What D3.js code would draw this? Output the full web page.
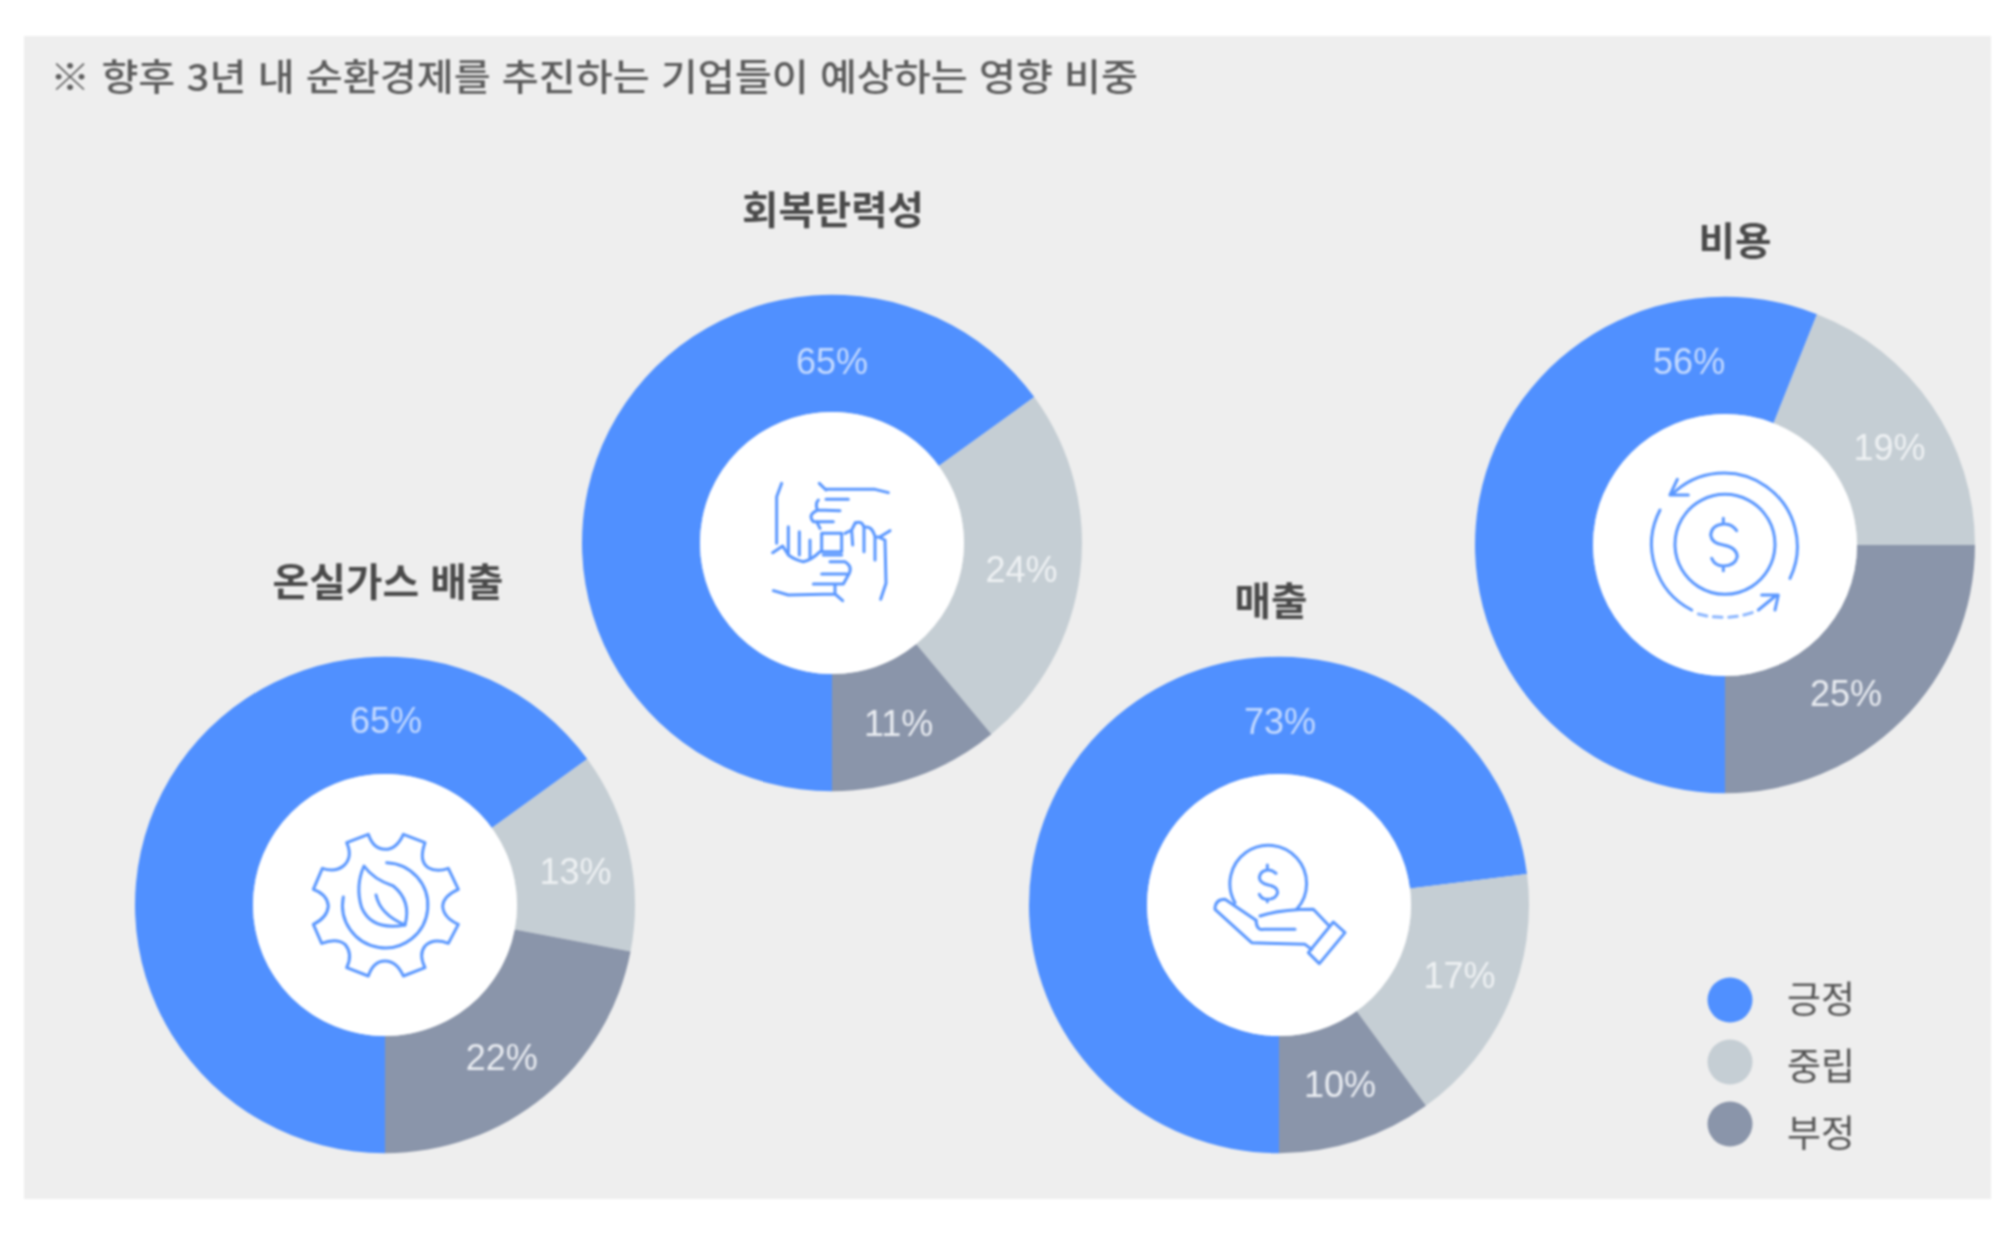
<!DOCTYPE html>
<html lang="ko">
<head>
<meta charset="utf-8">
<script src="https://cdn.jsdelivr.net/npm/d3@7"></script>
<style>
html,body{margin:0;padding:0;background:#fff}
svg{display:block;filter:blur(.9px)}
text{font-family:"Noto Sans CJK KR","Noto Sans",sans-serif}
text.pct{font-family:"Liberation Sans",Arial,sans-serif}
</style>
</head>
<body>
<svg id="chart" width="2014" height="1234"></svg>
<script>
// ---- data ----
const titleText = "※ 향후 3년 내 순환경제를 추진하는 기업들이 예상하는 영향 비중";
const categories = ["온실가스 배출", "회복탄력성", "매출", "비용"];
const seriesNames = ["긍정", "중립", "부정"];
const positive = [65, 65, 73, 56];
const neutral  = [13, 24, 17, 19];
const negative = [22, 11, 10, 25];

// ---- layout (not data) ----
const colors = ["#5090ff", "#c5ced4", "#8a95aa"];
const labelColors = ["#c4daff", "#eef1f3", "#e9ecf1"];
const centers = [[385, 905], [832, 543], [1279, 905], [1725, 545]];
const titlePos = [[388, 582, 231], [833, 210, 182], [1271, 601, 73], [1735, 241, 73]];
const topLabelAngle = [0, 0, 0, -11];      // blue labels sit near the top, degrees
const labelNudge = [
  [[1, 3], [7, 7], [-3, 7]],
  [[0, 6], [3, 2], [3, 3]],
  [[1, 4], [8, -5], [3, 0]],
  [[0, 1], [9, 8], [-12, 15]]
];
const R = 250, r = 132, labelR = 188, squashY = 0.993;

const svg = d3.select("#chart");
svg.append("rect").attr("x", 24).attr("y", 36).attr("width", 1967).attr("height", 1163).attr("fill", "#eeeeee");

svg.append("text").attr("x", 50).attr("y", 91)
  .attr("font-size", 37).attr("font-weight", 500).attr("fill", "#5c5c5c")
  .attr("textLength", 1088).attr("lengthAdjust", "spacingAndGlyphs").text(titleText);

const pie = d3.pie().sort(null).startAngle(Math.PI).endAngle(3 * Math.PI);
const arc = d3.arc().innerRadius(r).outerRadius(R);
const labelArc = d3.arc().innerRadius(labelR).outerRadius(labelR);

// icons are drawn in a 3x local space whose origin is given per icon
const icons = [
  { o: [285, 282], paths: [
    "M235 70Q250 115 285 115Q320 115 340 70L405 95Q385 150 415 170Q440 185 475 172L505 235Q460 255 458 285Q460 320 505 340L475 397Q430 380 405 405Q385 430 405 470L340 495Q320 450 285 450Q250 450 235 495L170 470Q190 430 165 400Q140 380 95 397L70 340Q112 320 115 285Q112 250 70 235L97 172Q135 185 160 165Q190 140 170 95Z",
    "M290 155A128 128 0 1 1 160 258",
    "M222 165Q195 225 215 290Q245 360 345 342Q365 270 310 225Q250 205 222 165Z",
    "M258 252Q270 310 345 342"
  ]},
  { o: [336, 309], paths: [
    "M185 130L170 170V310M158 338L188 318L205 345Q225 360 250 365Q275 360 300 335",
    "M205 260V340M238 275V345M270 300V355",
    "M298 130L318 150M318 148H465L505 158M318 178H385M295 180Q285 190 292 210L360 212M290 212Q262 225 280 245H340M290 245L300 265",
    "M305 280H365V335H305Z",
    "M510 272L478 292L495 300L498 430L482 478M375 280L395 270Q410 240 405 250Q425 240 432 262V335M395 270L398 315M432 262Q455 255 465 290V360M465 290L480 292",
    "M160 452L205 465L345 462L368 482M330 365H375Q400 380 385 405M305 402H380M385 405L370 432H280M345 432V460M310 345H365"
  ]},
  { o: [297, 252], paths: [
    "M165 245A115 115 0 1 1 350 265",
    "M288 157Q275 145 262 147Q240 150 238 170Q240 187 265 192Q293 197 293 215Q288 235 262 235Q245 235 238 220M262 132V147M262 235V242",
    "M228 298L135 235Q105 235 105 265L215 365L375 370L395 385",
    "M228 298Q230 330 250 325H345M240 285Q300 265 400 265L445 312",
    "M460 303L495 335L418 428L385 395Z"
  ]},
  { o: [315, 315], paths: [
    "M510 415A220 220 0 0 0 155 165M150 165H205M150 165L172 118",
    "M120 210A222 222 0 0 0 215 510",
    "M415 510L470 465M425 465H475L465 510",
    "M315 163A150 150 0 1 1 314.9 163Z",
    "M350 272Q335 250 310 252Q275 255 272 285Q275 310 310 315Q350 322 352 350Q345 378 310 378Q285 378 275 355M310 235V252M310 378V392"
  ], dashed: "M235 522Q320 545 405 515" }
];

categories.forEach((name, i) => {
  const g = svg.append("g").attr("transform", `translate(${centers[i][0]},${centers[i][1]})`);
  const values = [positive[i], neutral[i], negative[i]];
  const arcs = pie(values);

  const ring = g.append("g").attr("transform", `scale(1,${squashY})`);
  ring.selectAll("path.slice").data(arcs).join("path")
    .attr("class", "slice").attr("d", arc).attr("fill", (d, k) => colors[k]);
  ring.append("circle").attr("r", r).attr("fill", "#fff");

  g.selectAll("text.pct").data(arcs).join("text")
    .attr("class", "pct")
    .attr("transform", (d, k) => {
      const a = topLabelAngle[i] * Math.PI / 180;
      const p = k === 0 ? [labelR * Math.sin(a), -labelR * Math.cos(a)] : labelArc.centroid(d);
      return `translate(${p[0] + labelNudge[i][k][0]},${p[1] + labelNudge[i][k][1]})`;
    })
    .attr("text-anchor", "middle").attr("dy", ".36em")
    .attr("font-size", 36)
    .attr("fill", (d, k) => labelColors[k])
    .text(d => d.data + "%");

  const ic = icons[i];
  const ig = g.append("g")
    .attr("transform", `scale(${1 / 3}) translate(${-ic.o[0]},${-ic.o[1]})`)
    .attr("fill", "none").attr("stroke", "#5a97ff").attr("stroke-width", 9)
    .attr("stroke-linecap", "round").attr("stroke-linejoin", "round");
  ic.paths.forEach(p => ig.append("path").attr("d", p));
  if (ic.dashed) ig.append("path").attr("d", ic.dashed).attr("stroke-dasharray", "26 20").attr("opacity", .7);

  svg.append("text").attr("x", titlePos[i][0]).attr("y", titlePos[i][1])
    .attr("dy", ".36em").attr("text-anchor", "middle")
    .attr("font-size", 39).attr("font-weight", 700).attr("fill", "#4a4a4a")
    .attr("textLength", titlePos[i][2]).attr("lengthAdjust", "spacingAndGlyphs")
    .text(name);
});

// legend
const legendY = d3.scalePoint().domain(seriesNames).range([1000, 1124]);
const legendTextY = d3.scalePoint().domain(seriesNames).range([1000, 1134]);
seriesNames.forEach((s, k) => {
  svg.append("circle").attr("cx", 1730).attr("cy", legendY(s)).attr("r", 22.5).attr("fill", colors[k]);
  svg.append("text").attr("x", 1787).attr("y", legendTextY(s)).attr("dy", ".36em")
    .attr("font-size", 37).attr("fill", "#555")
    .attr("textLength", 68).attr("lengthAdjust", "spacingAndGlyphs").text(s);
});
</script>
</body>
</html>
